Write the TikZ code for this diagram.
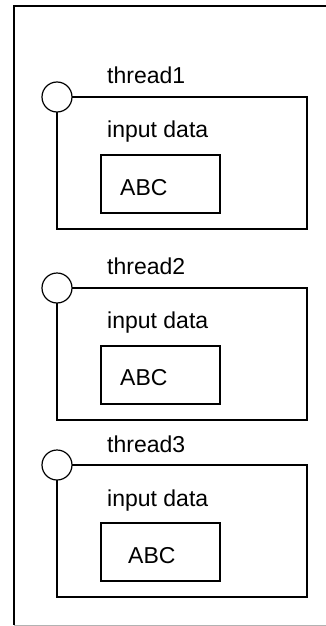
\documentclass[tikz,border=0pt]{standalone}
\usepackage{fontspec}
\setmainfont{Liberation Sans}
\begin{document}
\begin{tikzpicture}[x=1pt, y=-1pt,
  frame/.style={draw, line width=1.4pt, inner sep=0pt, outer sep=0pt, anchor=north west},
  thread/.style={frame, minimum width=250pt, minimum height=132pt},
  databox/.style={frame, minimum width=119pt, minimum height=58pt},
  port/.style={circle, draw, fill=white, line width=1.2pt, minimum size=30pt, inner sep=0pt},
  txt/.style={anchor=base west, inner sep=0pt, font=\fontsize{23}{27}\selectfont}
]
  \clip (0,0) rectangle (326,626);

  % outer frame, open to the right
  \draw[line width=1.4pt] (340,6) -- (14,6) -- (14,625);
  \draw[gray!60, line width=1pt] (14,625) -- (340,625);

  % thread 1
  \node[thread] (t1) at (57,97) {};
  \node[port] (p1) at (t1.north west) {};
  \node[txt] (n1) at (107,83) {thread1};
  \node[txt] (in1) at (107,137) {input data};
  \node[databox] (d1) at (101,155) {};
  \node[txt] (a1) at (120,195) {ABC};

  % thread 2
  \node[thread] (t2) at (57,288) {};
  \node[port] (p2) at (t2.north west) {};
  \node[txt] (n2) at (107,274) {thread2};
  \node[txt] (in2) at (107,328) {input data};
  \node[databox] (d2) at (101,346) {};
  \node[txt] (a2) at (120,385) {ABC};

  % thread 3
  \node[thread] (t3) at (57,465) {};
  \node[port] (p3) at (t3.north west) {};
  \node[txt] (n3) at (107,452) {thread3};
  \node[txt] (in3) at (107,506) {input data};
  \node[databox] (d3) at (101,523) {};
  \node[txt] (a3) at (128,563) {ABC};
\end{tikzpicture}
\end{document}
